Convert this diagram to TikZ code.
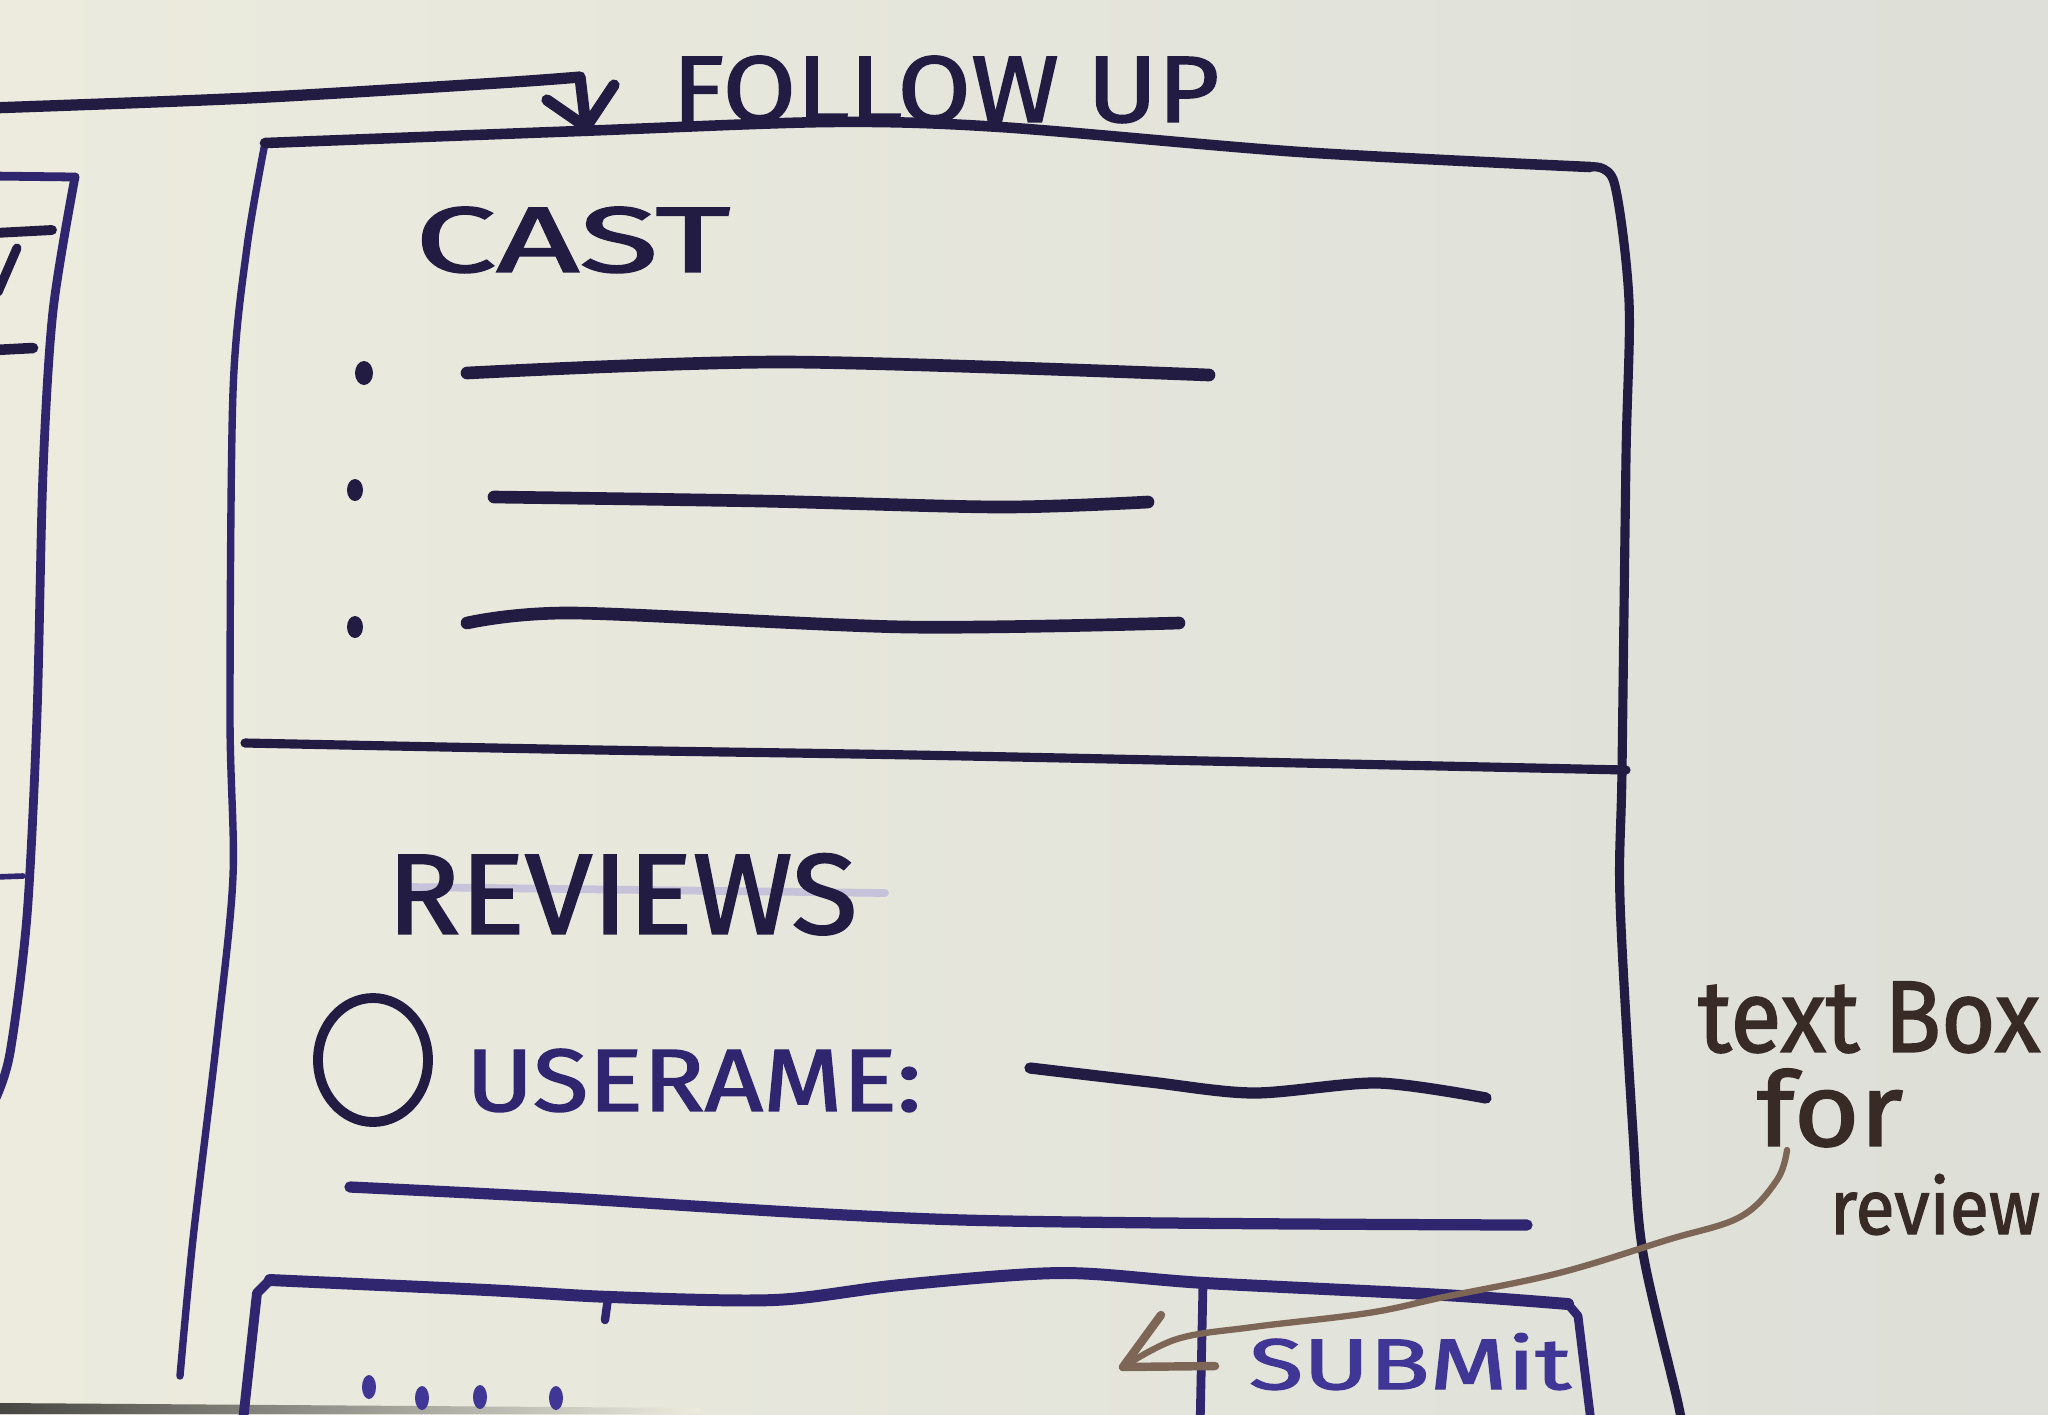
\documentclass[tikz,border=0pt]{standalone}
\usepackage{fontspec}
\setmainfont{Fira Sans}
\newfontfamily\handfont[FakeBold=1.6]{Fira Sans}
\usepackage{graphicx}

\definecolor{paperL}{RGB}{236,235,222}
\definecolor{paperR}{RGB}{221,223,216}
\definecolor{ink}{RGB}{34,28,66}
\definecolor{inkblue}{RGB}{48,38,112}
\definecolor{penblue}{RGB}{64,54,150}
\definecolor{notetext}{RGB}{56,42,36}
\definecolor{noteline}{RGB}{126,102,86}
\definecolor{smudge}{RGB}{150,140,215}

% fit a hand-lettered word into a given width and height
\newcommand{\fitword}[3]{\resizebox{#1}{#2}{#3}}

\tikzset{
  pen/.style={draw=inkblue, line width=2.2pt, line cap=round, line join=round},
  heavypen/.style={pen, draw=ink, line width=3pt},
  notepen/.style={draw=noteline, line width=1.8pt, line cap=round, line join=round},
  hand/.style={inner sep=0pt, outer sep=0pt, anchor=south west, text=ink, font=\handfont},
  notehand/.style={hand, text=notetext},
}

\begin{document}
\begin{tikzpicture}[x=0.01cm, y=-0.01cm]
\useasboundingbox (0,0) rectangle (2048,1414);
\clip (0,0) rectangle (2048,1414);

% sheet of paper
\fill[left color=paperL, right color=paperR] (0,0) rectangle (2048,1414);
\shade[left color=black!70!paperL, right color=paperL] (0,1403) -- (700,1408) -- (700,1414) -- (0,1414) -- cycle;

% neighbouring screen on the left
\draw[pen, line width=2.5pt] (-10,176) -- (75,177);
\draw[pen, line width=2.5pt] plot[smooth] coordinates {(75,177) (53,311) (43,473) (37,715) (27,916) (10,1053) (-5,1100)};
\draw[heavypen, line width=2.8pt] (-5,233) -- (52,230);
\draw[heavypen, line width=2.6pt] (17,248) -- (-2,292);
\draw[heavypen, line width=3pt] (-5,350) -- (33,348);
\draw[pen, line width=1.6pt] (-5,877) -- (23,876);

% follow-up connector
\coordinate (fromleft) at (-10,108);
\coordinate (followin) at (586,127);
\draw[heavypen, line width=3.2pt] plot[smooth] coordinates {(fromleft) (249,98) (498,83) (580,77)} -- (followin);
\draw[heavypen, line width=3.2pt] (547,100) -- (followin) -- (614,85);
\node[hand] (followlbl) at (672,123) {\fitword{5.47cm}{0.66cm}{FOLLOW UP}};

% main screen frame
\draw[pen, line width=2.1pt] plot[smooth] coordinates {(180,1376) (193,1239) (217,1037) (233,876) (230,715) (233,392) (247,247) (265,143)};
\draw[heavypen, line width=3pt] plot[smooth] coordinates {(265,143) (580,131) (830,122) (1000,127) (1300,152) (1590,167)};
\draw[heavypen, line width=2.6pt] plot[smooth] coordinates {(1590,167) (1614,182) (1629,301) (1626,457) (1622,770) (1620,900) (1633,1133) (1643,1253) (1678,1403) (1682,1430)};
\draw[heavypen, line width=2.6pt] plot[smooth] coordinates {(245,743) (600,750) (914,755) (1300,763) (1626,770)};

% cast list
\node[hand] (castlbl) at (415,273) {\fitword{3.15cm}{0.65cm}{CAST}};
\fill[ink] (364,373) ellipse [x radius=9, y radius=12];
\fill[ink] (355,490) ellipse [x radius=8, y radius=11];
\fill[ink] (355,627) ellipse [x radius=8, y radius=11];
\draw[heavypen, line width=3.6pt] plot[smooth] coordinates {(467,373) (785,362) (1209,375)};
\draw[heavypen, line width=3.6pt] plot[smooth] coordinates {(494,497) (760,501) (1000,507) (1148,502)};
\draw[heavypen, line width=3.6pt] plot[smooth] coordinates {(467,623) (573,613) (906,627) (1179,623)};

% reviews
\draw[smudge, opacity=0.4, line width=2.2pt, line cap=round] (410,887) -- (885,893);
\node[hand] (reviewslbl) at (387,935) {\fitword{4.7cm}{0.8cm}{REVIEWS}};
\draw[heavypen, line width=2.8pt] (373,1060) ellipse [x radius=55, y radius=62];
\node[hand, text=inkblue] (userlbl) at (466,1112) {\fitword{4.55cm}{0.62cm}{USERAME:}};
\draw[heavypen, line width=3.2pt] plot[smooth] coordinates {(1030,1068) (1150,1082) (1254,1093) (1378,1083) (1486,1098)};
\draw[pen, line width=3.2pt] plot[smooth] coordinates {(350,1187) (549,1197) (963,1220) (1527,1225)};

% review text area and submit button
\draw[pen, line width=2.8pt] (242,1430) -- (257,1293) -- (270,1280);
\draw[pen, line width=3.4pt] plot[smooth] coordinates {(270,1280) (487,1290) (611,1297) (774,1300) (900,1285) (1061,1273) (1205,1283) (1444,1295) (1568,1304)};
\draw[pen, line width=2.5pt] (1568,1304) -- (1578,1316) -- (1592,1430);
\draw[pen, line width=2.5pt] (1203,1283) -- (1200,1430);
\draw[pen, line width=2.4pt] (608,1298) -- (605,1320);
\foreach \px/\py in {369/1387, 422/1398, 480/1397, 556/1398}
  \fill[penblue] (\px,\py) ellipse [x radius=7, y radius=12];
\node[hand, text=penblue] (submitlbl) at (1249,1390) {\fitword{3.22cm}{0.56cm}{SUBMit}};

% margin note with its pointer
\node[notehand] (textboxlbl) at (1698,1053) {\fitword{3.42cm}{0.70cm}{text Box}};
\node[notehand] (forlbl) at (1757,1147) {\fitword{1.46cm}{0.77cm}{for}};
\node[notehand] (reviewlbl) at (1830,1235) {\fitword{2.1cm}{0.60cm}{review}};
\coordinate (notefoot) at (1787,1150);
\coordinate (notetip) at (1123,1367);
\draw[notepen] plot[smooth, tension=0.6] coordinates {(notefoot) (1777,1180) (1740,1217) (1667,1240) (1559,1273) (1444,1297) (1368,1313) (1253,1327) (1177,1339) (notetip)};
\draw[notepen, line width=2.4pt] (1161,1315) -- (notetip) -- (1215,1366);
\end{tikzpicture}
\end{document}
